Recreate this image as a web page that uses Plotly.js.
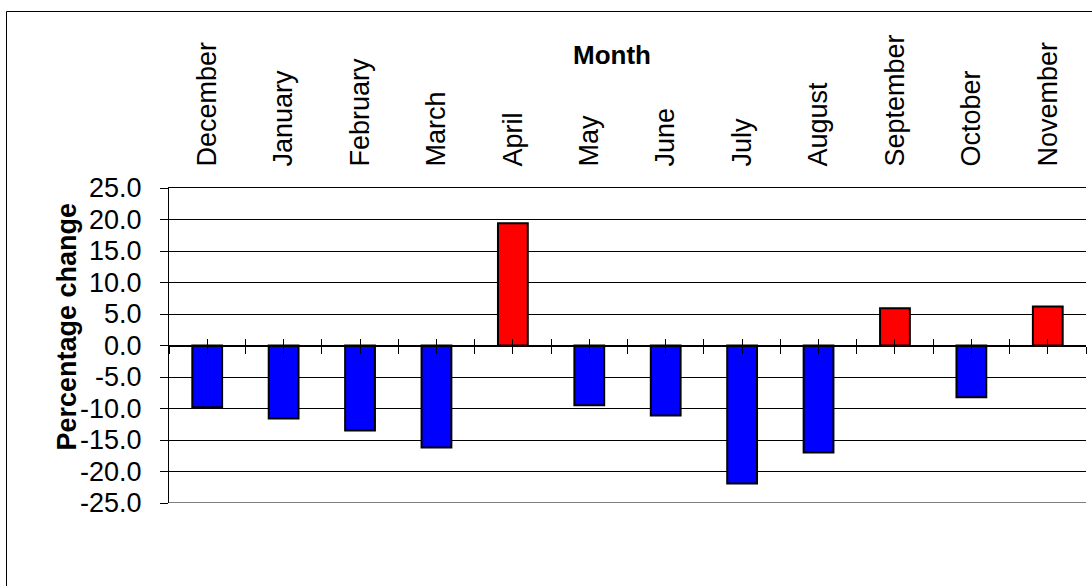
<!DOCTYPE html>
<html>
<head>
<meta charset="utf-8">
<script src="https://cdn.plot.ly/plotly-3.0.1.min.js"></script>
<style>
html,body{margin:0;padding:0;background:#fff;}
#chart{width:1092px;height:586px;}
</style>
</head>
<body>
<div id="chart"></div>
<script>
const months = ["December","January","February","March","April","May","June","July","August","September","October","November"];
const pctChange = [-9.8, -11.6, -13.5, -16.2, 19.4, -9.5, -11.1, -21.9, -17.0, 5.9, -8.2, 6.2];
const yTickVals = [25, 20, 15, 10, 5, 0, -5, -10, -15, -20, -25];
const yTickText = ["25.0","20.0","15.0","10.0","5.0","0.0","-5.0","-10.0","-15.0","-20.0","-25.0"];
const xTitle = "Month";
const yTitle = "Percentage change";

const FONT = "Liberation Sans, Arial, sans-serif";
const barColors = pctChange.map(v => v >= 0 ? "#FF0000" : "#0000FF");

const trace = {
  type: "bar",
  x: months,
  y: pctChange,
  marker: {color: barColors, line: {color: "#000000", width: 2}},
  hoverinfo: "x+y"
};
// empty helper traces so that the zero-line tick axes get drawn
const axisHelper2 = {type: "scatter", x: [], y: [], xaxis: "x2", yaxis: "y", hoverinfo: "skip"};
const axisHelper3 = {type: "scatter", x: [], y: [], xaxis: "x3", yaxis: "y", hoverinfo: "skip"};

const zeroAxis = {
  overlaying: "x",
  type: "linear",
  range: [-0.5, 11.5],
  anchor: "free",
  position: 0.5,
  tickmode: "linear",
  tick0: -0.5,
  dtick: 0.5,
  ticklen: 7,
  tickwidth: 1,
  tickcolor: "#000",
  showline: true,
  linecolor: "#000",
  linewidth: 1,
  showticklabels: false,
  showgrid: false,
  zeroline: false,
  fixedrange: true
};

const layout = {
  width: 1092,
  height: 586,
  margin: {l: 169, r: 6, t: 188, b: 83, pad: 0},
  paper_bgcolor: "#fff",
  plot_bgcolor: "#fff",
  showlegend: false,
  bargap: 0.61,
  font: {family: FONT, size: 27, color: "#000"},
  xaxis: {
    type: "category",
    side: "top",
    tickangle: -90,
    ticks: "",
    ticklabelstandoff: 15,
    showline: true,
    linecolor: "#000",
    linewidth: 1,
    showgrid: false,
    zeroline: false,
    tickfont: {family: FONT, size: 27, color: "#000"}
  },
  xaxis2: Object.assign({}, zeroAxis, {ticks: "outside"}),
  xaxis3: Object.assign({}, zeroAxis, {ticks: "inside"}),
  yaxis: {
    range: [-25, 25],
    tickmode: "array",
    tickvals: yTickVals,
    ticktext: yTickText,
    ticks: "outside",
    ticklen: 8,
    tickcolor: "#000",
    ticklabelstandoff: 13,
    showline: true,
    linecolor: "#000",
    linewidth: 1,
    showgrid: true,
    gridcolor: "#000",
    gridwidth: 1,
    zeroline: false,
    tickfont: {family: FONT, size: 27, color: "#000"}
  },
  annotations: [
    {text: "<b>" + xTitle + "</b>", xref: "paper", yref: "paper", x: 0.4826, y: 1.422,
     xanchor: "center", yanchor: "middle", showarrow: false,
     font: {family: FONT, size: 26, color: "#000"}},
    {text: "<b>" + yTitle + "</b>", xref: "paper", yref: "paper", x: -0.1123, y: 0.5603,
     xanchor: "center", yanchor: "middle", textangle: -90, showarrow: false,
     font: {family: FONT, size: 27, color: "#000"}}
  ],
  shapes: [
    {type: "rect", xref: "paper", yref: "paper", x0: -0.1772, x1: 1.2, y0: -0.5, y1: 1.5603,
     line: {color: "#000", width: 1}, fillcolor: "rgba(0,0,0,0)", layer: "below"},
    {type: "line", xref: "paper", yref: "y", x0: 0, x1: 1, y0: -25, y1: -25,
     line: {color: "#000", width: 1}, layer: "below"}
  ]
};

Plotly.newPlot("chart", [trace, axisHelper2, axisHelper3], layout, {displayModeBar: false, staticPlot: true});
</script>
</body>
</html>
